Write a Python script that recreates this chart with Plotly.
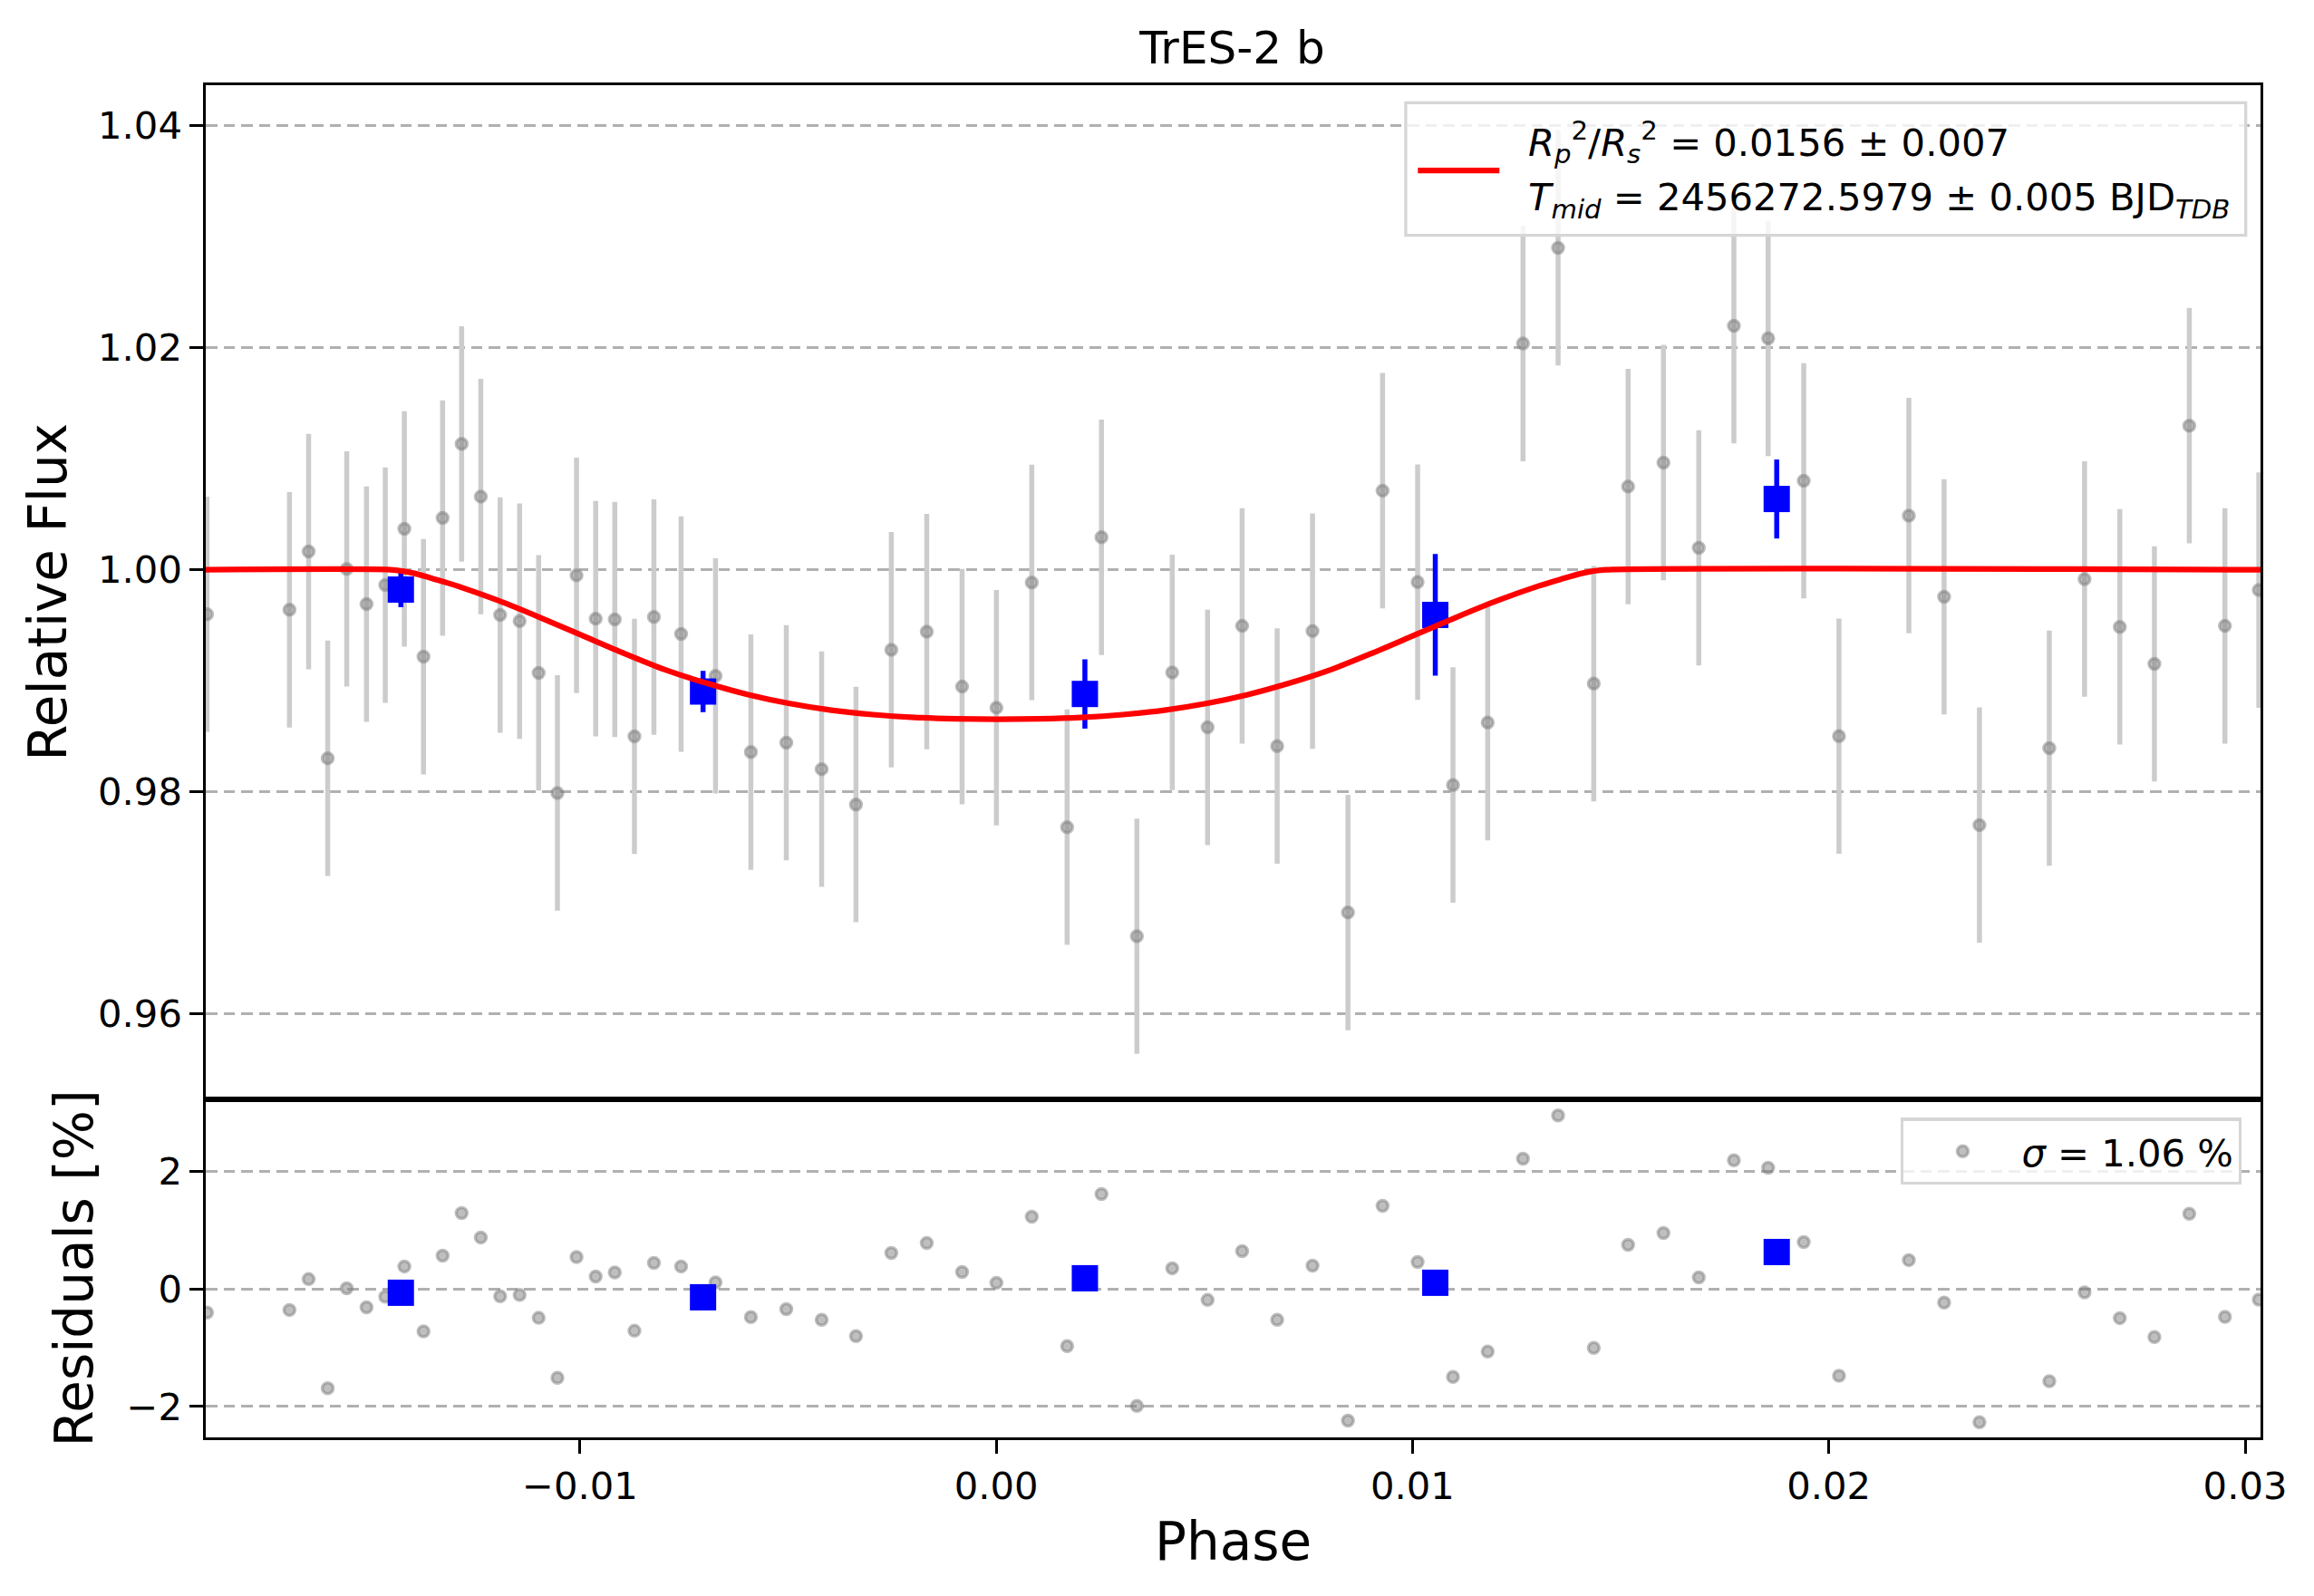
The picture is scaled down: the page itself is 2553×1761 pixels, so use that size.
import plotly.graph_objects as go

# ---- data ----
phase = [-0.018960, -0.016979, -0.016519, -0.016060, -0.015603, -0.015128, -0.014678,
         -0.014219, -0.013759, -0.013300, -0.012843, -0.012383, -0.011918, -0.011450,
         -0.010993, -0.010542, -0.010083, -0.009623, -0.009164, -0.008692, -0.008224,
         -0.007571, -0.006744, -0.005895, -0.005044, -0.004195, -0.003370, -0.002521,
         -0.001670, -0.000821, 0.000004, 0.000853, 0.001702, 0.002527, 0.003378,
         0.004227, 0.005076, 0.005906, 0.006748, 0.007597, 0.008448, 0.009280,
         0.010122, 0.010971, 0.011805, 0.012653, 0.013496, 0.014353, 0.015178,
         0.016027, 0.016876, 0.017719, 0.018542, 0.019397, 0.020244, 0.021922,
         0.022769, 0.023618, 0.025296, 0.026143, 0.026990, 0.027821, 0.028659,
         0.029515, 0.030329]

flux = [0.99599, 0.99639, 1.00164, 0.98302, 1.00007, 0.99690, 0.99862,
        1.00368, 0.99217, 1.00466, 1.01133, 1.00659, 0.99592, 0.99537,
        0.99071, 0.97989, 0.99949, 0.99559, 0.99552, 0.98499, 0.99574,
        0.99421, 0.99044, 0.98358, 0.98442, 0.98204, 0.97885, 0.99279,
        0.99442, 0.98947, 0.98757, 0.99885, 0.97681, 1.00292, 0.96699,
        0.99075, 0.98580, 0.99494, 0.98412, 0.99447, 0.96913, 1.00712,
        0.99888, 0.98061, 0.98623, 1.02037, 1.02899, 0.98974, 1.00749,
        1.00965, 1.00197, 1.02197, 1.02084, 1.00801, 0.98501, 1.00487,
        0.99756, 0.97700, 0.98393, 0.99916, 0.99485, 0.99152, 1.01297,
        0.99494, 0.99817]

flux_err = [0.0106, 0.0106, 0.0106, 0.0106, 0.0106, 0.0106, 0.0106,
            0.0106, 0.0106, 0.0106, 0.0106, 0.0106, 0.0106, 0.0106,
            0.0106, 0.0106, 0.0106, 0.0106, 0.0106, 0.0106, 0.0106,
            0.0106, 0.0106, 0.0106, 0.0106, 0.0106, 0.0106, 0.0106,
            0.0106, 0.0106, 0.0106, 0.0106, 0.0106, 0.0106, 0.0106,
            0.0106, 0.0106, 0.0106, 0.0106, 0.0106, 0.0106, 0.0106,
            0.0106, 0.0106, 0.0106, 0.0106, 0.0106, 0.0106, 0.0106,
            0.0106, 0.0106, 0.0106, 0.0106, 0.0106, 0.0106, 0.0106,
            0.0106, 0.0106, 0.0106, 0.0106, 0.0106, 0.0106, 0.0106,
            0.0106, 0.0106]

residuals = [-0.40, -0.355, 0.17, -1.69, 0.015, -0.31, -0.13,
             0.386, -0.72, 0.57, 1.296, 0.88, -0.12, -0.10,
             -0.49, -1.51, 0.545, 0.216, 0.283, -0.71, 0.447,
             0.386, 0.113, -0.478, -0.34, -0.524, -0.80, 0.617,
             0.787, 0.293, 0.108, 1.234, -0.972, 1.62, -1.99,
             0.355, -0.185, 0.648, -0.524, 0.40, -2.24, 1.42,
             0.463, -1.496, -1.064, 2.22, 2.96, -1.00, 0.756,
             0.956, 0.20, 2.195, 2.067, 0.80, -1.476, 0.494,
             -0.231, -2.267, -1.568, -0.057, -0.494, -0.817, 1.285,
             -0.473, -0.18]

bin_phase = [-0.014303, -0.007044, 0.002129, 0.010546, 0.018748]
bin_flux = [0.99821, 0.98903, 0.98881, 0.99593, 1.00637]
bin_err = [0.00158, 0.00186, 0.00312, 0.00548, 0.00356]
bin_resid = [-0.062, -0.139, 0.185, 0.108, 0.632]

# red transit model
model_phase = [-0.01899, -0.01456, -0.01426, -0.01396, -0.01346, -0.01296,
               -0.01196, -0.01096, -0.00996, -0.00896, -0.00796, -0.00696,
               -0.00596, -0.00496, -0.00396, -0.00296, -0.00196, -0.00096,
               0.00004, 0.00104, 0.00204, 0.00304, 0.00404, 0.00504,
               0.00604, 0.00704, 0.00804, 0.00904, 0.01004, 0.01104,
               0.01204, 0.01304, 0.01354, 0.01404, 0.01434, 0.01464,
               0.03037]
model_flux = [1.0, 1.0, 0.99987, 0.99965, 0.99912, 0.99855,
              0.99722, 0.99570, 0.99410, 0.99250, 0.99100, 0.98978,
              0.98875, 0.98795, 0.98735, 0.98695, 0.98670, 0.98658,
              0.98654, 0.98658, 0.98670, 0.98695, 0.98735, 0.98795,
              0.98875, 0.98978, 0.99100, 0.99250, 0.99410, 0.99570,
              0.99722, 0.99855, 0.99912, 0.99965, 0.99987, 1.0,
              1.0]

flux_ticks = [0.96, 0.98, 1.00, 1.02, 1.04]
flux_labels = ["0.96", "0.98", "1.00", "1.02", "1.04"]
resid_ticks = [-2, 0, 2]
resid_labels = ["\u22122", "0", "2"]
phase_ticks = [-0.01, 0.00, 0.01, 0.02, 0.03]
phase_labels = ["\u22120.01", "0.00", "0.01", "0.02", "0.03"]

fit_lines = [
    "<i>R</i><sub><i>p</i></sub><sup>2</sup>/<i>R</i><sub><i>s</i></sub><sup>2</sup>"
    " = 0.0156 \u00b1 0.007",
    "<i>T</i><sub><i>mid</i></sub> = 2456272.5979 \u00b1 0.005 BJD<sub><i>TDB</i></sub>",
]
sigma_label = "<i>\u03c3</i> = 1.06 %"

FONT = "DejaVu Sans"
TICK = 41.7
gray_fill = "rgba(128,128,128,0.5)"

fig = go.Figure()

# unbinned points with error bars
fig.add_trace(go.Scatter(
    x=phase, y=flux, mode="markers", xaxis="x", yaxis="y",
    marker=dict(size=12, color=gray_fill, line=dict(color=gray_fill, width=3.5)),
    error_y=dict(type="data", array=flux_err, color="#cccccc", thickness=5.5, width=0),
    showlegend=False,
))

# binned points
fig.add_trace(go.Scatter(
    x=bin_phase, y=bin_flux, mode="markers", xaxis="x", yaxis="y",
    marker=dict(symbol="square", size=29, color="#0000ff"),
    error_y=dict(type="data", array=bin_err, color="#0000ff", thickness=5.5, width=0),
    showlegend=False,
))

# transit model
fig.add_trace(go.Scatter(
    x=model_phase, y=model_flux, mode="lines", xaxis="x", yaxis="y",
    line=dict(color="#ff0000", width=6.25, shape="spline", smoothing=0.8),
    showlegend=False,
))

# residuals
fig.add_trace(go.Scatter(
    x=phase, y=residuals, mode="markers", xaxis="x2", yaxis="y2",
    marker=dict(size=12, color=gray_fill, line=dict(color=gray_fill, width=3.5)),
    name=sigma_label, legend="legend2",
))
fig.add_trace(go.Scatter(
    x=bin_phase, y=bin_resid, mode="markers", xaxis="x2", yaxis="y2",
    marker=dict(symbol="square", size=29, color="#0000ff"),
    showlegend=False,
))

# fit legend box of the upper panel (paper coords)
fig.add_shape(type="rect", xref="paper", yref="paper", x0=0.5840, x1=0.9928, y0=0.8890, y1=0.9870,
              line=dict(color="#d6d6d6", width=3.3), fillcolor="rgba(255,255,255,0.8)")
fig.add_shape(type="line", xref="paper", yref="paper", x0=0.5899, x1=0.6296, y0=0.9369, y1=0.9369,
              line=dict(color="#ff0000", width=6.25))
for txt, ypos in zip(fit_lines, [0.9578, 0.9149]):
    fig.add_annotation(text=txt, xref="paper", yref="paper", x=0.6428, y=ypos,
                       xanchor="left", yanchor="middle", showarrow=False,
                       font=dict(family=FONT, size=TICK, color="black"))

split = 0.2501
axis_common = dict(showline=True, mirror=True, linecolor="black", linewidth=3.3,
                   zeroline=False, tickfont=dict(family=FONT, size=TICK, color="black"))
tick_style = dict(ticks="outside", ticklen=14.6, tickwidth=3.3, tickcolor="black")
grid = dict(showgrid=True, gridcolor="#b0b0b0", gridwidth=2.6, griddash="12.5px,7px")

fig.update_layout(
    width=2553, height=1761,
    margin=dict(l=226.5, r=59, t=93.5, b=175),
    paper_bgcolor="white", plot_bgcolor="white",
    font=dict(family=FONT, color="black"),
    title=dict(text="TrES-2 b", x=0.5325, xanchor="center", y=0.9702, yanchor="middle",
               yref="container", font=dict(family=FONT, size=50, color="black")),
    xaxis=dict(domain=[0, 1], anchor="y", range=[-0.01899, 0.03037], matches="x2",
               showticklabels=False, ticks="", showgrid=False, **axis_common),
    yaxis=dict(domain=[split, 1], anchor="x", range=[0.95231, 1.04364],
               tickvals=flux_ticks, ticktext=flux_labels, **tick_style,
               title=dict(text="Relative Flux", standoff=16,
                          font=dict(family=FONT, size=58, color="black")),
               **grid, **axis_common),
    xaxis2=dict(domain=[0, 1], anchor="y2", range=[-0.01899, 0.03037],
                tickvals=phase_ticks, ticktext=phase_labels, **tick_style, showgrid=False,
                title=dict(text="Phase", standoff=18,
                           font=dict(family=FONT, size=58, color="black")),
                **axis_common),
    yaxis2=dict(domain=[0, split], anchor="x2", range=[-2.526, 3.235],
                tickvals=resid_ticks, ticktext=resid_labels, **tick_style,
                title=dict(text="Residuals [%]", standoff=19,
                           font=dict(family=FONT, size=58, color="black")),
                **grid, **axis_common),
    legend2=dict(x=0.9908, xanchor="right", y=0.2363, yanchor="top",
                 bgcolor="rgba(255,255,255,0.8)", bordercolor="#d6d6d6", borderwidth=3.3,
                 font=dict(family=FONT, size=TICK, color="black"), itemwidth=120),
)

fig.write_html("out.html", config={"displayModeBar": False},
               post_script="document.body.style.margin='0px';")
